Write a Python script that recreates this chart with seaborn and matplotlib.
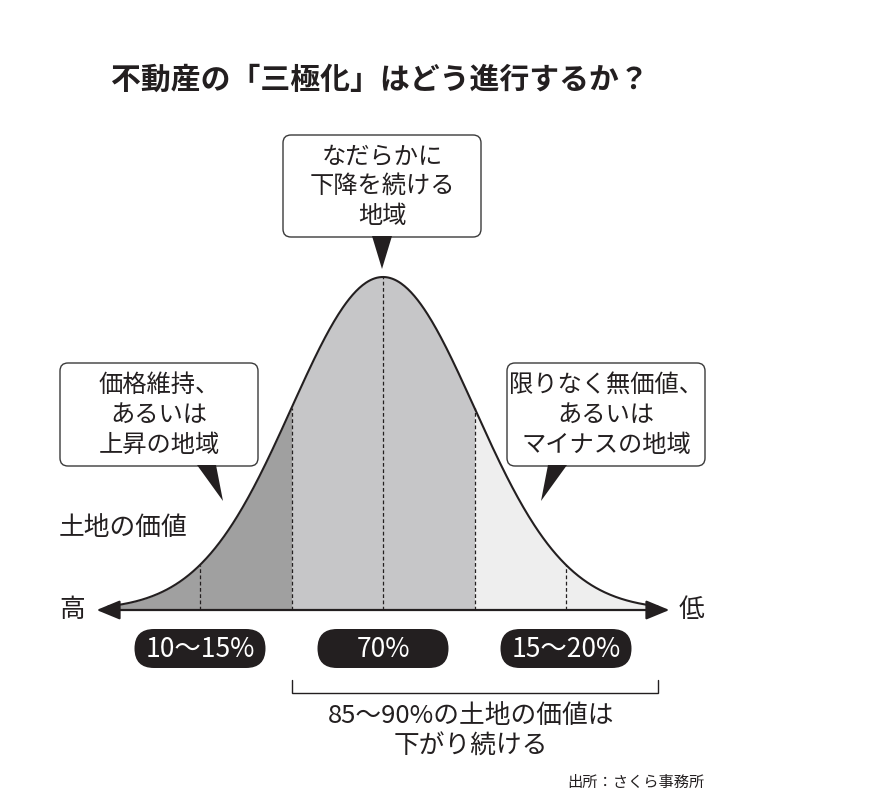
import numpy as np
import matplotlib
matplotlib.use("Agg")
import matplotlib.pyplot as plt
import matplotlib.transforms as mtransforms
from matplotlib.patches import FancyBboxPatch, Polygon
import seaborn as sns

# データ（標準偏差単位）
bounds = [-3, -2, -1, 0, 1, 2, 3]
bands = [(-3, -1), (-1, 1), (1, 3)]
band_colors = ['#a0a0a0', '#c6c6c8', '#eeeeee']
band_labels = ['10〜15%', '70%', '15〜20%']
band_centers = [-2, 0, 2]
falling_span = (-1, 3)

title = '不動産の「三極化」はどう進行するか？'
box_texts = ['価格維持、\nあるいは\n上昇の地域',
             'なだらかに\n下降を続ける\n地域',
             '限りなく無価値、\nあるいは\nマイナスの地域']
bracket_text = '85〜90%の土地の価値は\n下がり続ける'
source = '出所：さくら事務所'

sns.set_theme(style='white')
plt.rcParams['font.family'] = ['Noto Sans CJK JP', 'DejaVu Sans']
ink = '#231f20'

def bell(x):
    return np.exp(-0.5 * np.asarray(x, dtype=float) ** 2)

fig = plt.figure(figsize=(8.74, 8.09), dpi=100)
fig.patch.set_facecolor('white')

# 曲線用の軸（1σ = 91.5px、頂点の高さ = 333px）
ax = fig.add_axes([0, 0, 1, 1])
ax.set_xlim(-383 / 91.5, (874 - 383) / 91.5)
ax.set_ylim(-(809 - 610) / 333, 610 / 333)
ax.axis('off')

# 配置用の軸（ピクセル座標）
lay = fig.add_axes([0, 0, 1, 1], zorder=3)
lay.set_xlim(0, 874)
lay.set_ylim(809, 0)
lay.axis('off')
lay.patch.set_alpha(0)

for (a, b), c in zip(bands, band_colors):
    xs = np.linspace(a, b, 200)
    ax.fill_between(xs, 0, bell(xs), color=c, lw=0, zorder=1)

for b in bounds[1:-1]:
    ax.vlines(b, 0, bell(b), colors=ink, linestyles=(0, (3, 2)), lw=0.9, zorder=2)

xs = np.linspace(bounds[0], bounds[-1], 500)
sns.lineplot(x=xs, y=bell(xs), ax=ax, color=ink, lw=1.5, zorder=3)

ax.annotate('', xy=(-3.13, 0), xytext=(3.13, 0),
            arrowprops=dict(arrowstyle='<|-|>,head_length=0.8,head_width=0.33',
                            color=ink, lw=1.6, shrinkA=0, shrinkB=0,
                            mutation_scale=18), zorder=4)

def to_px(x):
    return ax.transData.transform((x, 0))[0]

# 割合の楕円ラベル
for c, lab in zip(band_centers, band_labels):
    cx = to_px(c)
    w, h = 131, 39
    lay.add_patch(FancyBboxPatch((cx - w / 2, 629), w, h,
                                 boxstyle='round,pad=0,rounding_size=19.5',
                                 fc=ink, ec='none'))
    lay.text(cx, 629 + h / 2 + 1, lab, color='white', fontsize=19,
             ha='center', va='center')

# 括弧
blend = mtransforms.blended_transform_factory(ax.transData, lay.transData)
a, b = falling_span
ax.plot([a, a, b, b], [680, 693, 693, 680], color=ink, lw=1.0,
        transform=blend, solid_joinstyle='miter')
lay.text(471, 731, bracket_text, ha='center', va='center', fontsize=18.5,
         color=ink, linespacing=1.2)

# 吹き出し
boxes = [(60, 363, 198, 103), (283, 135, 198, 102), (507, 363, 198, 103)]
pointers = [[(197, 465), (216, 465), (223, 501)],
            [(372, 236), (392, 236), (382, 269)],
            [(548, 465), (567, 465), (541, 501)]]
for (x0, y0, w, h), txt, tri in zip(boxes, box_texts, pointers):
    lay.add_patch(FancyBboxPatch((x0, y0), w, h,
                                 boxstyle='round,pad=0,rounding_size=8',
                                 fc='white', ec='#3a3a3a', lw=1.0))
    lay.add_patch(Polygon(tri, closed=True, fc=ink, ec='none'))
    lay.text(x0 + w / 2, y0 + h / 2, txt, ha='center', va='center',
             fontsize=17.5, color=ink, linespacing=1.2)

lay.text(380, 80, title, ha='center', va='center', fontsize=21.5,
         fontweight='bold', color=ink)
lay.text(59, 528, '土地の価値', ha='left', va='center', fontsize=18.5, color=ink)
lay.text(59, 610, '高', ha='left', va='center', fontsize=18.5, color=ink)
lay.text(679, 610, '低', ha='left', va='center', fontsize=18.5, color=ink)
lay.text(705, 782, source, ha='right', va='center', fontsize=11, color=ink)

fig.savefig('out.png', dpi=100)
